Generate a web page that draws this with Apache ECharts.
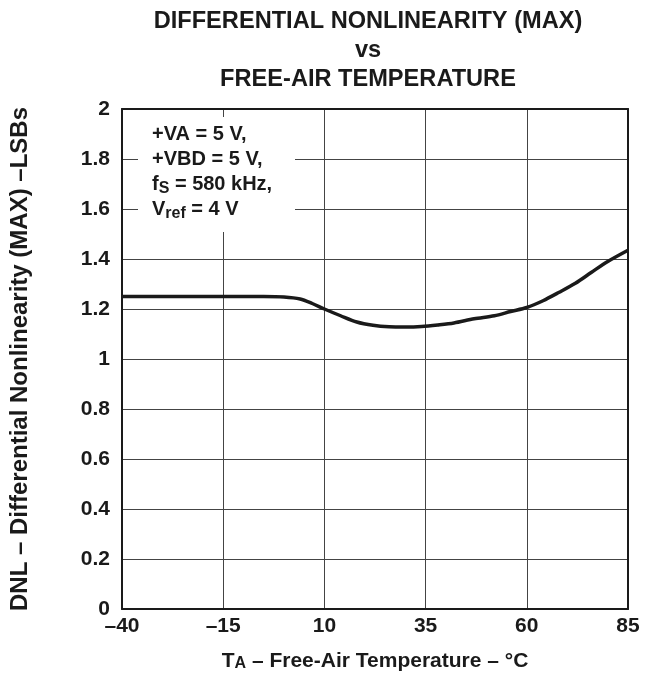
<!DOCTYPE html>
<html>
<head>
<meta charset="utf-8">
<script src="https://cdn.jsdelivr.net/npm/echarts@6/dist/echarts.min.js"></script>
<style>
  html, body { margin: 0; padding: 0; background: #fff; }
  #chart { width: 655px; height: 677px; }
</style>
</head>
<body>
<div id="chart"></div>
<script>
// free-air temperature, degC
var temps = [-40, -30, -20, -10, -5, 0, 4, 7, 10, 14, 18, 22, 26, 30, 34, 38, 42, 47, 52, 56, 60, 64, 68, 72, 76, 80, 85];
// DNL (max), LSBs
var dnl = [1.25, 1.25, 1.25, 1.25, 1.25, 1.248, 1.24, 1.222, 1.2, 1.173, 1.148, 1.135, 1.129, 1.128, 1.13, 1.136, 1.144, 1.161, 1.173, 1.19, 1.206, 1.233, 1.267, 1.303, 1.347, 1.39, 1.435];

var xTicks = { min: -40, max: 85, step: 25 };
var yTicks = { min: 0, max: 2, step: 0.2 };

var font = "'Liberation Sans', Arial, Helvetica, sans-serif";
var ink = '#1a1a1a';

var chart = echarts.init(document.getElementById('chart'));

chart.setOption({
  animation: false,
  backgroundColor: '#fff',
  textStyle: { fontFamily: font },
  grid: { left: 121, top: 109, width: 507, height: 505 },
  xAxis: [{
    type: 'value',
    min: xTicks.min,
    max: xTicks.max,
    interval: xTicks.step,
    axisLine: { show: true, onZero: false, lineStyle: { color: ink, width: 2 } },
    axisTick: { show: false },
    splitLine: { show: true, lineStyle: { color: '#444', width: 1 } },
    axisLabel: {
      color: ink, fontSize: 21, fontWeight: 'bold', margin: 7,
      formatter: function (v) { return v < 0 ? '\u2013' + (-v) : String(v); }
    },
    name: 'T{sub|A}{m| \u2013 Free-Air Temperature \u2013 \u00b0C}',
    nameLocation: 'middle',
    nameGap: 41,
    nameTextStyle: {
      rich: {
        m: { fontSize: 21, fontWeight: 'bold', color: ink, fontFamily: font, lineHeight: 22 },
        sub: { fontSize: 16, fontWeight: 'bold', color: ink, fontFamily: font, lineHeight: 6, verticalAlign: 'bottom' }
      },
      fontSize: 21, fontWeight: 'bold', color: ink, lineHeight: 22
    }
  }, {
    type: 'value', position: 'top',
    min: xTicks.min, max: xTicks.max, interval: xTicks.step,
    axisLine: { show: true, onZero: false, lineStyle: { color: ink, width: 2 } },
    axisTick: { show: false }, axisLabel: { show: false }, splitLine: { show: false }
  }],
  yAxis: [{
    type: 'value',
    min: yTicks.min,
    max: yTicks.max,
    interval: yTicks.step,
    axisLine: { show: true, onZero: false, lineStyle: { color: ink, width: 2 } },
    axisTick: { show: false },
    splitLine: { show: true, lineStyle: { color: '#444', width: 1 } },
    axisLabel: { color: ink, fontSize: 21, fontWeight: 'bold', margin: 12 },
    name: 'DNL \u2013 Differential Nonlinearity (MAX) \u2013LSBs',
    nameLocation: 'middle',
    nameRotate: 90,
    nameGap: 90,
    nameTextStyle: { fontSize: 24, fontWeight: 'bold', color: ink }
  }, {
    type: 'value', position: 'right',
    min: yTicks.min, max: yTicks.max, interval: yTicks.step,
    axisLine: { show: true, onZero: false, lineStyle: { color: ink, width: 2 } },
    axisTick: { show: false }, axisLabel: { show: false }, splitLine: { show: false }
  }],
  graphic: [
    {
      type: 'text', x: 368, y: 7, z: 20,
      style: {
        text: 'DIFFERENTIAL NONLINEARITY (MAX)\nvs\nFREE-AIR TEMPERATURE',
        fill: ink, font: 'bold 23.6px ' + font, lineHeight: 29, align: 'center'
      }
    },
    {
      type: 'rect', z: 20,
      shape: { x: 138, y: 117, width: 157, height: 115 },
      style: { fill: '#fff' }
    },
    {
      type: 'text', x: 152, y: 122, z: 21,
      style: {
        text: '{m|+VA = 5 V,}\n{m|+VBD = 5 V,}\n{m|f}{s|S}{m| = 580 kHz,}\n{m|V}{s|ref}{m| = 4 V}',
        rich: {
          m: { fontSize: 20, fontWeight: 'bold', fill: ink, fontFamily: font, lineHeight: 25 },
          s: { fontSize: 16, fontWeight: 'bold', fill: ink, fontFamily: font, lineHeight: 2, verticalAlign: 'bottom' }
        }
      }
    }
  ],
  series: [{
    type: 'line',
    data: temps.map(function (t, i) { return [t, dnl[i]]; }),
    smooth: 0.3,
    showSymbol: false,
    lineStyle: { color: ink, width: 3.5 },
    z: 5
  }]
});
</script>
</body>
</html>
